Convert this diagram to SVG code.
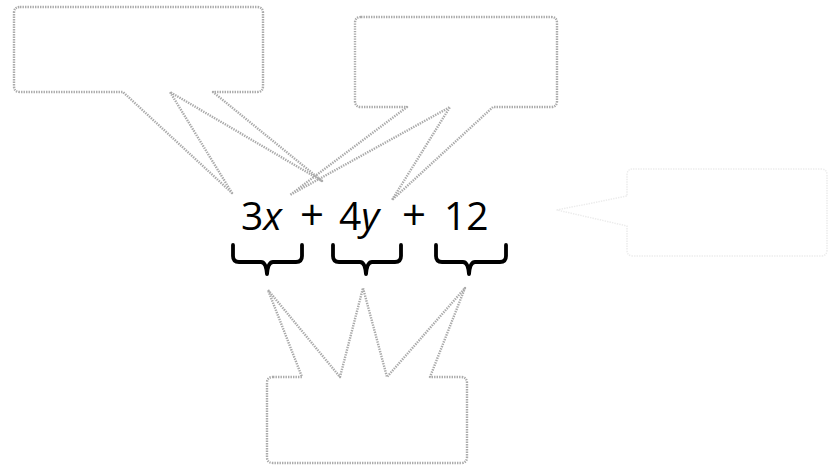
<svg xmlns="http://www.w3.org/2000/svg" width="837" height="473" viewBox="0 0 837 473">
  <style>
    .bubble { fill: none; stroke: #aaaaaa; stroke-width: 2.4; stroke-dasharray: 1.4 1.1; stroke-linejoin: round; }
    .faint { stroke: #ececec; stroke-width: 1.5; }
    .brace { fill: none; stroke: #000; stroke-width: 3.8; stroke-linejoin: round; stroke-linecap: round; }
    .expr { font-family: "Open Sans", "Liberation Sans", sans-serif; font-size: 39px; font-weight: 500; fill: #000; }
    .it { font-style: italic; }
    .op { font-size: 42px; }
  </style>
  <rect width="837" height="473" fill="#fff"/>

  <g id="bubble-top-left">
    <path class="bubble" d="M20,7 H257 Q263,7 263,13 V86 Q263,92 257,92 H213 L322,181 L170,92 L232,193 L123,92 H20 Q14,92 14,86 V13 Q14,7 20,7 Z"/>
  </g>

  <g id="bubble-top-right">
    <path class="bubble" d="M361,17 H551 Q557,17 557,23 V101 Q557,107 551,107 H493 L392,200 L450,107 L290,195 L407,107 H361 Q355,107 355,101 V23 Q355,17 361,17 Z"/>
  </g>

  <g id="bubble-right">
    <path class="bubble faint" d="M633,169 H821 Q827,169 827,175 V250 Q827,256 821,256 H633 Q627,256 627,250 V226 L557,210 L627,196 V175 Q627,169 633,169 Z"/>
  </g>

  <g id="bubble-bottom">
    <path class="bubble" d="M273,377 H302 L268,290 L340,377 L363,288 L387,377 L465,288 L430,377 H461 Q467,377 467,383 V457 Q467,463 461,463 H273 Q267,463 267,457 V383 Q267,377 273,377 Z"/>
  </g>

  <g id="expression">
    <text class="expr" y="230"><tspan x="241">3</tspan><tspan class="it">x</tspan><tspan class="op" x="300">+</tspan><tspan x="339">4</tspan><tspan class="it">y</tspan><tspan class="op" x="402">+</tspan><tspan x="444">12</tspan></text>
  </g>

  <g id="connectors">
    <path class="brace" d="M233,245 V256 Q233,262 239,262 H261 Q266,262 267,274 Q268,262 273,262 H296 Q302,262 302,256 V245"/>
    <path class="brace" d="M333,245 V256 Q333,262 339,262 H360 Q365,262 366,274 Q367,262 372,262 H395 Q401,262 401,256 V245"/>
    <path class="brace" d="M436,245 V256 Q436,262 442,262 H463 Q468,262 469,274 Q470,262 475,262 H500 Q506,262 506,256 V245"/>
  </g>
</svg>
